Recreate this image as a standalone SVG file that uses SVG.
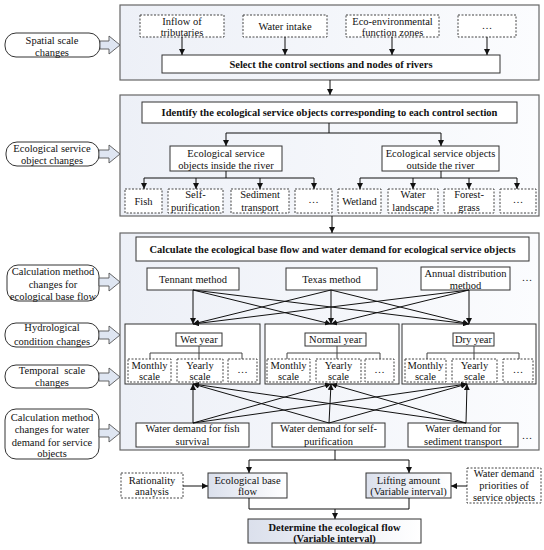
<svg xmlns="http://www.w3.org/2000/svg" width="544" height="550" viewBox="0 0 544 550">
<defs>
<linearGradient id="pg" x1="0" y1="0" x2="1" y2="0"><stop offset="0" stop-color="#edf0f7"/><stop offset="1" stop-color="#fbfcfe"/></linearGradient>
<linearGradient id="bg" x1="0" y1="0" x2="1" y2="0"><stop offset="0" stop-color="#dbe0ec"/><stop offset="1" stop-color="#ffffff"/></linearGradient>
<marker id="ah" viewBox="0 0 6 6" refX="6" refY="3" markerWidth="6" markerHeight="6" markerUnits="userSpaceOnUse" orient="auto"><path d="M0,0 L6,3 L0,6 z" fill="#111"/></marker>
<style>
text{font-family:"Liberation Serif","Times New Roman",serif;font-size:10.5px;fill:#111;text-anchor:middle}
.b{font-weight:bold}
.panel{fill:url(#pg);stroke:#666;stroke-width:1.2}
.box{fill:#fff;stroke:#333;stroke-width:1}
.gbox{fill:url(#bg);stroke:#333;stroke-width:1}
.dash{fill:#fff;stroke:#444;stroke-width:1;stroke-dasharray:2,1.5}
.oval{fill:#fff;stroke:#333;stroke-width:1}
.blk{fill:#dfe6f2;stroke:#555;stroke-width:0.9}
.c{fill:none;stroke:#111;stroke-width:1}
.t{fill:none;stroke:#444;stroke-width:1}
.a{fill:none;stroke:#111;stroke-width:1;marker-end:url(#ah)}
</style>
</defs>
<rect width="544" height="550" fill="#fff"/>

<g id="panel1"><rect class="panel" x="120" y="5" width="419" height="75"/></g>
<g id="panel2"><rect class="panel" x="120" y="95" width="419" height="121"/></g>
<g id="panel3"><rect class="panel" x="120" y="233" width="419" height="217"/></g>

<!-- left labels -->
<g id="lab-spatial"><rect class="oval" x="5" y="33" width="95" height="24" rx="11"/><text x="52" y="43.5">Spatial scale</text><text x="52" y="55.5">changes</text></g>
<g id="lab-eco"><rect class="oval" x="6" y="142" width="93" height="24" rx="11"/><text x="52" y="152">Ecological service</text><text x="52" y="164">object changes</text></g>
<g id="lab-calc1"><rect class="oval" x="7" y="265" width="92" height="36" rx="11"/><text x="53" y="275">Calculation method</text><text x="53" y="287.5">changes for</text><text x="53" y="299.5">ecological base flow</text></g>
<g id="lab-hydro"><rect class="oval" x="5" y="323" width="94" height="24" rx="11"/><text x="52" y="331">Hydrological</text><text x="52" y="345">condition changes</text></g>
<g id="lab-temporal"><rect class="oval" x="5" y="365" width="94" height="23" rx="11"/><text x="52" y="374" xml:space="preserve">Temporal  scale</text><text x="52" y="386">changes</text></g>
<g id="lab-calc2"><rect class="oval" x="5" y="409" width="94" height="50" rx="11"/><text x="52" y="421">Calculation method</text><text x="52" y="433">changes for water</text><text x="52" y="445.5">demand for service</text><text x="52" y="457">objects</text></g>

<!-- block arrows -->
<g id="block-arrows">
<path class="blk" d="M100,41 H109 V36 L120,45 L109,54 V49 H100 Z"/>
<path class="blk" d="M99,150 H109 V145 L120,154 L109,163 V158 H99 Z"/>
<path class="blk" d="M99,278 H109 V273 L120,282 L109,291 V286 H99 Z"/>
<path class="blk" d="M99,331 H109 V326 L120,335 L109,344 V339 H99 Z"/>
<path class="blk" d="M99,373 H109 V368 L120,377 L109,386 V381 H99 Z"/>
<path class="blk" d="M99,429 H109 V424 L120,433 L109,442 V437 H99 Z"/>
</g>

<!-- panel 1 nodes -->
<g id="n-inflow"><rect class="dash" x="140" y="15" width="84" height="22"/><text x="182" y="24.5">Inflow of</text><text x="182" y="36">tributaries</text></g>
<g id="n-intake"><rect class="dash" x="243" y="15" width="84" height="22"/><text x="285" y="30">Water intake</text></g>
<g id="n-ecozone"><rect class="dash" x="346" y="15" width="93" height="22"/><text x="392.5" y="24.5">Eco-environmental</text><text x="392.5" y="36">function zones</text></g>
<g id="n-more1"><rect class="dash" x="458" y="15" width="58" height="22"/><text x="487" y="29">…</text></g>
<g id="n-select"><rect class="box" x="162" y="55" width="338" height="18"/><text class="b" x="331" y="67.5">Select the control sections and nodes of rivers</text></g>

<!-- panel 2 nodes -->
<g id="n-identify"><rect class="box" x="142" y="102" width="375" height="21"/><text class="b" x="329.5" y="116">Identify the ecological service objects corresponding to each control section</text></g>
<g id="n-inside"><rect class="box" x="170" y="146" width="112" height="25"/><text x="226" y="157">Ecological service</text><text x="226" y="169">objects inside the river</text></g>
<g id="n-outside"><rect class="box" x="382" y="146" width="117" height="25"/><text x="440.5" y="157">Ecological service objects</text><text x="440.5" y="169">outside the river</text></g>
<g id="n-fish"><rect class="dash" x="125" y="189" width="37" height="24"/><text x="143.5" y="204.5">Fish</text></g>
<g id="n-selfp"><rect class="dash" x="168" y="189" width="55" height="24"/><text x="195.5" y="198">Self-</text><text x="195.5" y="210.5">purification</text></g>
<g id="n-sediment"><rect class="dash" x="231" y="189" width="58" height="24"/><text x="260" y="198">Sediment</text><text x="260" y="210.5">transport</text></g>
<g id="n-more2"><rect class="dash" x="295" y="189" width="37" height="24"/><text x="313.5" y="203">…</text></g>
<g id="n-wetland"><rect class="dash" x="338" y="189" width="43" height="24"/><text x="359.5" y="204.5">Wetland</text></g>
<g id="n-landscape"><rect class="dash" x="388" y="189" width="50" height="24"/><text x="413" y="198">Water</text><text x="413" y="210.5">landscape</text></g>
<g id="n-forest"><rect class="dash" x="444" y="189" width="50" height="24"/><text x="469" y="198">Forest-</text><text x="469" y="210.5">grass</text></g>
<g id="n-more3"><rect class="dash" x="500" y="189" width="36" height="24"/><text x="518" y="203">…</text></g>

<!-- panel 3 nodes -->
<g id="n-calculate"><rect class="box" x="136" y="237" width="393" height="24"/><text class="b" x="332.5" y="252.5">Calculate the ecological base flow and water demand for ecological service objects</text></g>
<g id="n-tennant"><rect class="box" x="147" y="268" width="92" height="22"/><text x="193" y="282.5">Tennant method</text></g>
<g id="n-texas"><rect class="box" x="286" y="268" width="91" height="22"/><text x="331.5" y="282.5">Texas method</text></g>
<g id="n-annual"><rect class="box" x="421" y="267" width="89" height="23"/><text x="465.5" y="276.5">Annual distribution</text><text x="465.5" y="288.5">method</text></g>
<g id="n-more4"><text x="527" y="281">…</text></g>

<g id="n-wet"><rect class="box" x="125" y="324" width="135" height="60"/><rect class="box" x="176" y="333" width="46" height="13"/><text x="199" y="343">Wet year</text>
<rect class="dash" x="128" y="359" width="43" height="23"/><text x="149.5" y="369">Monthly</text><text x="149.5" y="380">scale</text>
<rect class="dash" x="177" y="359" width="46" height="23"/><text x="200" y="369">Yearly</text><text x="200" y="380">scale</text>
<rect class="dash" x="228" y="359" width="29" height="23"/><text x="242.5" y="373">…</text></g>
<g id="n-normal"><rect class="box" x="265" y="324" width="134" height="60"/><rect class="box" x="305" y="333" width="61" height="13"/><text x="335.5" y="343">Normal year</text>
<rect class="dash" x="267" y="359" width="43" height="23"/><text x="288.5" y="369">Monthly</text><text x="288.5" y="380">scale</text>
<rect class="dash" x="316" y="359" width="45" height="23"/><text x="338.5" y="369">Yearly</text><text x="338.5" y="380">scale</text>
<rect class="dash" x="365" y="359" width="29" height="23"/><text x="379.5" y="373">…</text></g>
<g id="n-dry"><rect class="box" x="402" y="324" width="134" height="60"/><rect class="box" x="453" y="333" width="41" height="13"/><text x="473.5" y="343">Dry year</text>
<rect class="dash" x="405" y="359" width="41" height="23"/><text x="425.5" y="369">Monthly</text><text x="425.5" y="380">scale</text>
<rect class="dash" x="452" y="359" width="45" height="23"/><text x="474.5" y="369">Yearly</text><text x="474.5" y="380">scale</text>
<rect class="dash" x="503" y="359" width="30" height="23"/><text x="518" y="373">…</text></g>

<g id="n-wdfish"><rect class="box" x="136" y="423" width="113" height="24"/><text x="192.5" y="432">Water demand for fish</text><text x="192.5" y="445">survival</text></g>
<g id="n-wdself"><rect class="box" x="272" y="423" width="113" height="24"/><text x="328.5" y="432">Water demand for self-</text><text x="328.5" y="445">purification</text></g>
<g id="n-wdsed"><rect class="box" x="408" y="423" width="110" height="24"/><text x="463" y="432">Water demand for</text><text x="463" y="445">sediment transport</text></g>
<g id="n-more5"><text x="527" y="439">…</text></g>

<!-- bottom nodes -->
<g id="n-rational"><rect class="dash" x="121" y="473" width="62" height="25"/><text x="152" y="484">Rationality</text><text x="152" y="495">analysis</text></g>
<g id="n-baseflow"><rect class="gbox" x="208" y="473" width="79" height="25"/><text x="247.5" y="484">Ecological base</text><text x="247.5" y="495">flow</text></g>
<g id="n-lifting"><rect class="gbox" x="366" y="473" width="85" height="25"/><text x="408.5" y="484">Lifting amount</text><text x="408.5" y="495">(Variable interval)</text></g>
<g id="n-priority"><rect class="dash" x="467" y="468" width="74" height="35"/><text x="504" y="477">Water demand</text><text x="504" y="489">priorities of</text><text x="504" y="501">service objects</text></g>
<g id="n-determine"><rect class="gbox" x="248" y="519" width="173" height="24"/><text class="b" x="334.5" y="530.5">Determine the ecological flow</text><text class="b" x="334.5" y="542">(Variable interval)</text></g>

<g id="connectors">
<path class="a" d="M182,37 V55"/><path class="a" d="M285,37 V55"/><path class="a" d="M392,37 V55"/><path class="a" d="M487,37 V55"/>
<path class="a" d="M330,80 V95"/>
<path class="c" d="M329,123 V133 M226,133 H441"/>
<path class="a" d="M226,133 V146"/><path class="a" d="M441,133 V146"/>
<path class="c" d="M226,171 V178 M144,178 H314"/>
<path class="a" d="M144,178 V189"/><path class="a" d="M196,178 V189"/><path class="a" d="M260,178 V189"/><path class="a" d="M314,178 V189"/>
<path class="c" d="M441,171 V178 M360,178 H517"/>
<path class="a" d="M360,178 V189"/><path class="a" d="M413,178 V189"/><path class="a" d="M469,178 V189"/><path class="a" d="M517,178 V189"/>
<path class="a" d="M332,216 V233"/>
<path class="a" d="M193,290 L193,324"/><path class="a" d="M193,290 L331,324"/><path class="a" d="M193,290 L469,324"/>
<path class="a" d="M331,290 L193,324"/><path class="a" d="M331,290 L331,324"/><path class="a" d="M331,290 L469,324"/>
<path class="a" d="M469,290 L193,324"/><path class="a" d="M469,290 L331,324"/><path class="a" d="M469,290 L469,324"/>
<path class="t" d="M199,346 V353 M150,353 H242 M150,353 V359 M199,353 V359 M242,353 V359"/>
<path class="t" d="M337,346 V353 M287,353 H380 M287,353 V359 M337,353 V359 M380,353 V359"/>
<path class="t" d="M474,346 V353 M427,353 H519 M427,353 V359 M474,353 V359 M519,353 V359"/>
<path class="a" d="M193,423 L193,384"/><path class="a" d="M193,423 L331,384"/><path class="a" d="M193,423 L467,384"/>
<path class="a" d="M329,423 L193,384"/><path class="a" d="M329,423 L331,384"/><path class="a" d="M329,423 L467,384"/>
<path class="a" d="M466,423 L193,384"/><path class="a" d="M466,423 L331,384"/><path class="a" d="M466,423 L467,384"/>
<path class="c" d="M335,450 V460 M249,460 H409"/>
<path class="a" d="M249,460 V473"/><path class="a" d="M409,460 V473"/>
<path class="a" d="M183,486 H208"/><path class="a" d="M467,486 H451"/>
<path class="c" d="M249,498 V509 H409 V498"/>
<path class="a" d="M335,509 V519"/>
</g>
</svg>
